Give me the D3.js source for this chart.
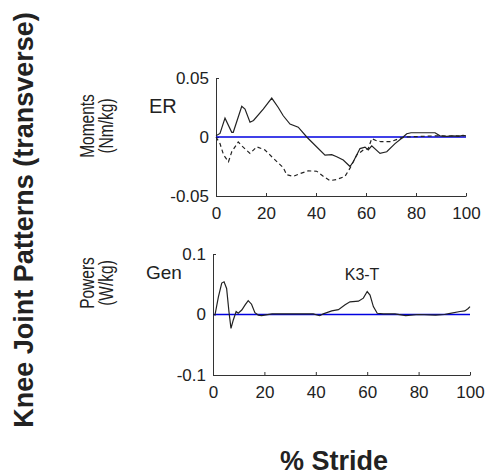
<!DOCTYPE html>
<meta charset="utf-8">
<style>
body { margin: 0; background: #fff; }
text { font-family: Arial, "Liberation Sans", sans-serif; fill: #222; }
.axis path, .axis line { stroke: #333; }
.axis text { font-size: 17px; fill: #222; }
.trace { fill: none; stroke: #222; stroke-width: 1.2px; }
.zero { stroke: #0000e0; stroke-width: 1.6px; }
</style>
<body>
<script src="https://d3js.org/d3.v7.min.js"></script>
<script>

// ---- data (x = % stride) ----
// transverse knee moment, solid trace
var momentSolid = [
  [0,0.001],[1.6,0.003],[3.6,0.016],[6.3,0.004],[6.9,0.004],[10.3,0.026],[11.6,0.0236],
  [13.6,0.0125],[15,0.014],[18.9,0.0236],[22.3,0.033],[24.9,0.025],[26.9,0.018],
  [29.6,0.011],[32.9,0.0083],[36.3,0],[39.6,-0.007],[43.6,-0.0153],[46.3,-0.015],
  [48.3,-0.0167],[50.9,-0.0195],[53.6,-0.025],[54.9,-0.021],[57.6,-0.0098],[59.6,-0.0086],
  [60.9,-0.011],[62.3,-0.0075],[65.6,-0.0139],[68.3,-0.0125],[71.6,-0.0056],[74.3,-0.001],
  [76.3,0.0028],[78,0.0036],[87.6,0.0036],[89.6,0.001],[92.3,0.0005],[95,0.001],
  [97,0.0005],[98.8,0.0013],[100,0.001]
];
// transverse knee moment, dashed trace
var momentDashed = [
  [0,0],[1.6,-0.0056],[3,-0.015],[5,-0.021],[6.3,-0.0125],[8.9,-0.0042],[10.3,-0.0075],
  [13.6,-0.0139],[16.3,-0.0083],[19.6,-0.011],[22.3,-0.0167],[24.9,-0.022],[26.9,-0.026],
  [28.3,-0.032],[30.9,-0.0333],[33.6,-0.031],[36.9,-0.0287],[40.3,-0.029],[42.9,-0.0333],
  [45.6,-0.037],[48.3,-0.036],[51.6,-0.0333],[53.6,-0.0264],[56.3,-0.0153],[58.9,-0.011],
  [60.9,-0.0098],[62.3,-0.0014],[64,-0.003],[66,-0.004],[70,-0.004],[73.6,-0.001],
  [76,0],[88,0.001],[92,0.0008],[99,0.001]
];
// transverse knee power
var power = [
  [0,0],[0.8,0],[2.1,0.029],[3.4,0.052],[4.3,0.054],[5.3,0.043],[6.2,0.005],[7,-0.023],
  [7.9,-0.009],[9,0.005],[9.8,0.002],[11.2,0.0074],[12.5,0.016],[13.7,0.023],[15,0.017],
  [16.3,0.003],[17.6,-0.001],[18.9,-0.002],[23,0.001],[27,0.001],[34,0.001],[39,0.001],
  [41.5,-0.002],[42.9,0.001],[46.2,0.006],[48.8,0.008],[51.4,0.016],[53.3,0.021],
  [56.6,0.022],[58.5,0.027],[60,0.038],[61.1,0.032],[62.4,0.013],[63.9,0.002],[66.3,0.001],
  [70.8,0.001],[75,-0.002],[80,0],[86.6,-0.001],[90,0],[92.3,0.002],[96.1,0.005],
  [98,0.006],[99.3,0.01],[100,0.013]
];

var strideTicks = [0, 20, 40, 60, 80, 100];
var momentTicks = [-0.05, 0, 0.05];
var momentTickLabels = ["-0.05", "0", "0.05"];
var powerTicks = [-0.1, 0, 0.1];
var powerTickLabels = ["-0.1", "0", "0.1"];

var svg = d3.select("body").append("svg")
    .attr("width", 485)
    .attr("height", 475);

function panel(cfg) {
  var x = d3.scaleLinear().domain([0, 100]).range(cfg.xr);
  var y = d3.scaleLinear().domain(cfg.yd).range(cfg.yr);
  var g = svg.append("g");

  g.append("g").attr("class", "axis")
      .attr("transform", "translate(0," + cfg.yr[0] + ")")
      .call(d3.axisBottom(x).tickValues(strideTicks).tickSize(-3).tickSizeOuter(0)
        .tickPadding(11).tickFormat(d3.format("d")));

  g.append("g").attr("class", "axis")
      .attr("transform", "translate(" + cfg.xr[0] + ",0)")
      .call(d3.axisLeft(y).tickValues(cfg.ticks).tickSize(-3).tickSizeOuter(0)
        .tickPadding(7).tickFormat(function(d, i) { return cfg.labels[i]; }));

  g.selectAll(".axis .domain").attr("stroke", "#333");

  var line = d3.line()
      .x(function(d) { return x(d[0]); })
      .y(function(d) { return y(d[1]); });

  g.append("line").attr("class", "zero")
      .attr("x1", x(0)).attr("x2", x(100))
      .attr("y1", y(0)).attr("y2", y(0));

  cfg.series.forEach(function(s) {
    g.append("path")
        .datum(s.data)
        .attr("class", "trace")
        .attr("stroke-dasharray", s.dash || null)
        .attr("d", line);
  });
  return {x: x, y: y};
}

var momentPanel = panel({
  xr: [216, 466], yr: [196, 78], yd: [-0.05, 0.05],
  ticks: momentTicks, labels: momentTickLabels,
  series: [{data: momentDashed, dash: "4,3"}, {data: momentSolid}]
});

var powerPanel = panel({
  xr: [213, 470], yr: [375, 254], yd: [-0.1, 0.1],
  ticks: powerTicks, labels: powerTickLabels,
  series: [{data: power}]
});

// labels
svg.append("text").attr("x", 149).attr("y", 113)
    .style("font-size", "20px").text("ER");
svg.append("text").attr("x", 146).attr("y", 279)
    .style("font-size", "19px").text("Gen");
svg.append("text").attr("x", powerPanel.x(58)).attr("y", 280)
    .attr("text-anchor", "middle").style("font-size", "16px").text("K3-T");

// vertical labels; sy stretches glyph height (the source figure is widened)
function vtext(x, y, size, weight, s, sy) {
  svg.append("text")
      .attr("transform", "translate(" + x + "," + y + ") rotate(-90) scale(1," + (sy || 1) + ")")
      .attr("text-anchor", "middle")
      .style("font-size", size + "px")
      .style("font-weight", weight)
      .text(s);
}

vtext(33, 220, 27, "bold", "Knee Joint Patterns (transverse)");
vtext(94, 126, 15.5, "normal", "Moments", 1.3);
vtext(113, 126, 15.5, "normal", "(Nm/kg)", 1.3);
vtext(94, 283, 15.5, "normal", "Powers", 1.3);
vtext(113, 283, 15.5, "normal", "(W/kg)", 1.3);

svg.append("text").attr("x", 334).attr("y", 470)
    .attr("text-anchor", "middle")
    .style("font-size", "27px").style("font-weight", "bold")
    .text("% Stride");

</script>
</body>
